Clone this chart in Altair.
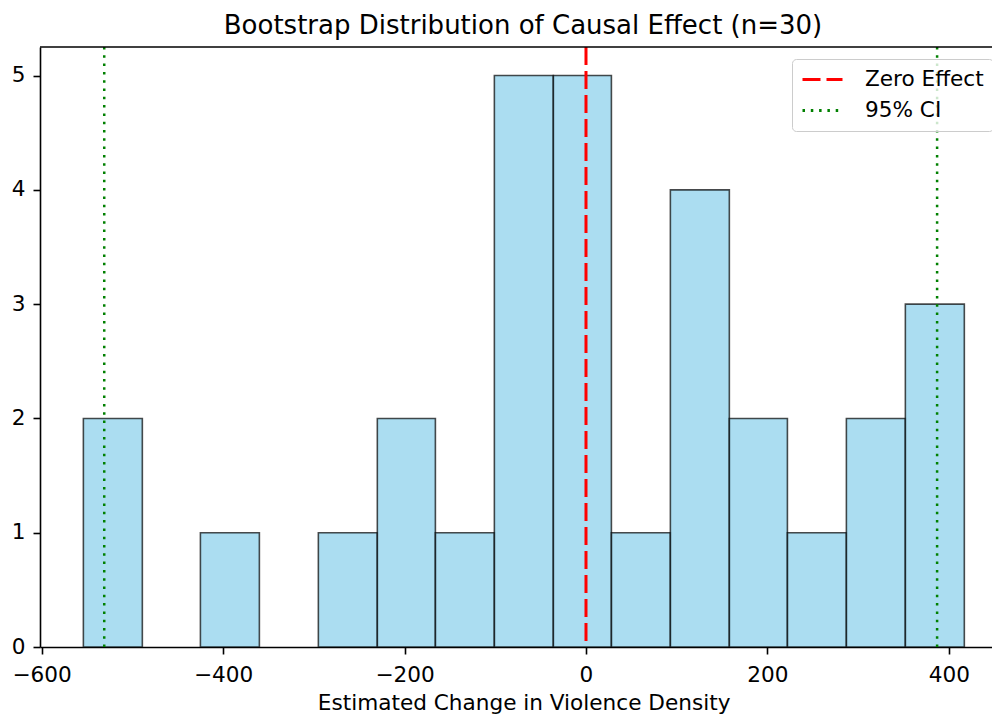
import altair as alt
import pandas as pd

# Histogram bin edges and counts
bin_edges = [-554, -489, -425, -360, -295, -230, -166, -101, -36, 28, 93, 158, 222, 287, 352, 417]
counts = [2, 0, 1, 0, 1, 2, 1, 5, 5, 1, 4, 2, 1, 2, 3]

# Reference lines
line_labels = ["Zero Effect", "95% CI", "95% CI"]
line_values = [0, -531, 387]

bars = pd.DataFrame({
    "start": bin_edges[:-1],
    "end": bin_edges[1:],
    "count": counts,
})
bars = bars[bars["count"] > 0]

lines = pd.DataFrame({"label": line_labels, "value": line_values})

FONT = "DejaVu Sans"
FS = 21.6
XDOM = [-601.8, 447.5]
YDOM = [0, 5.25]

x_scale = alt.Scale(domain=XDOM, nice=False, zero=False)
y_scale = alt.Scale(domain=YDOM, nice=False)

hist = alt.Chart(bars).mark_rect(
    fill="#87CEEB", fillOpacity=0.7, stroke="black", strokeOpacity=0.7, strokeWidth=1.6
).encode(
    x=alt.X("start:Q", scale=x_scale,
            axis=alt.Axis(values=[-600, -400, -200, 0, 200, 400], format="d",
                          title="Estimated Change in Violence Density",
                          titleX=483.6)),
    x2="end:Q",
    y=alt.Y("count:Q", scale=y_scale,
            axis=alt.Axis(values=[0, 1, 2, 3, 4, 5], format="d", title=None)),
    y2=alt.datum(0),
)

legend_kw = dict(title=None, orient="none", legendX=752, legendY=12,
                 symbolType="M-2,0H2", symbolSize=400, symbolOffset=10,
                 symbolStrokeWidth=3, labelOffset=31,
                 padding=9, rowPadding=8,
                 fillColor="rgba(255,255,255,0.8)",
                 strokeColor="#cccccc", cornerRadius=4,
                 labelFont=FONT, labelFontSize=FS, labelColor="black",
                 labelLimit=300)

rules = alt.Chart(lines).mark_rule().encode(
    x=alt.X("value:Q", scale=x_scale),
    color=alt.Color("label:N",
                    scale=alt.Scale(domain=["Zero Effect", "95% CI"], range=["#ff0000", "#008000"]),
                    legend=alt.Legend(**legend_kw)),
    strokeDash=alt.StrokeDash("label:N",
                              scale=alt.Scale(domain=["Zero Effect", "95% CI"],
                                              range=[[18, 6], [2.5, 5.8]]),
                              legend=alt.Legend(**legend_kw)),
    strokeWidth=alt.condition(alt.datum.label == "Zero Effect", alt.value(3), alt.value(2.5)),
)

top_spine = alt.Chart(pd.DataFrame({"k": [0]})).mark_rule(color="black", strokeWidth=1.6).encode(
    x=alt.value(0), x2=alt.value(952), y=alt.value(0)
)

chart = alt.layer(hist, rules, top_spine).properties(
    width=952,
    height=600,
    autosize=alt.AutoSizeParams(type="none"),
    padding={"left": 32, "top": 39, "right": 0, "bottom": 72},
    title=alt.TitleParams("Bootstrap Distribution of Causal Effect (n=30)",
                          font=FONT, fontSize=26, fontWeight="normal", color="black",
                          anchor="middle", dx=7, offset=7),
).configure_view(stroke=None).configure_axis(
    labelFont=FONT, labelFontSize=FS, labelColor="black",
    titleFont=FONT, titleFontSize=FS, titleColor="black", titleFontWeight="normal",
    domainColor="black", domainWidth=1.6, tickColor="black", tickWidth=1.6, tickSize=7,
    grid=False,
).configure_axisX(labelPadding=10, titlePadding=7).configure_axisY(labelPadding=8)

chart.save("out.html", embed_options={"renderer": "svg", "actions": False})
